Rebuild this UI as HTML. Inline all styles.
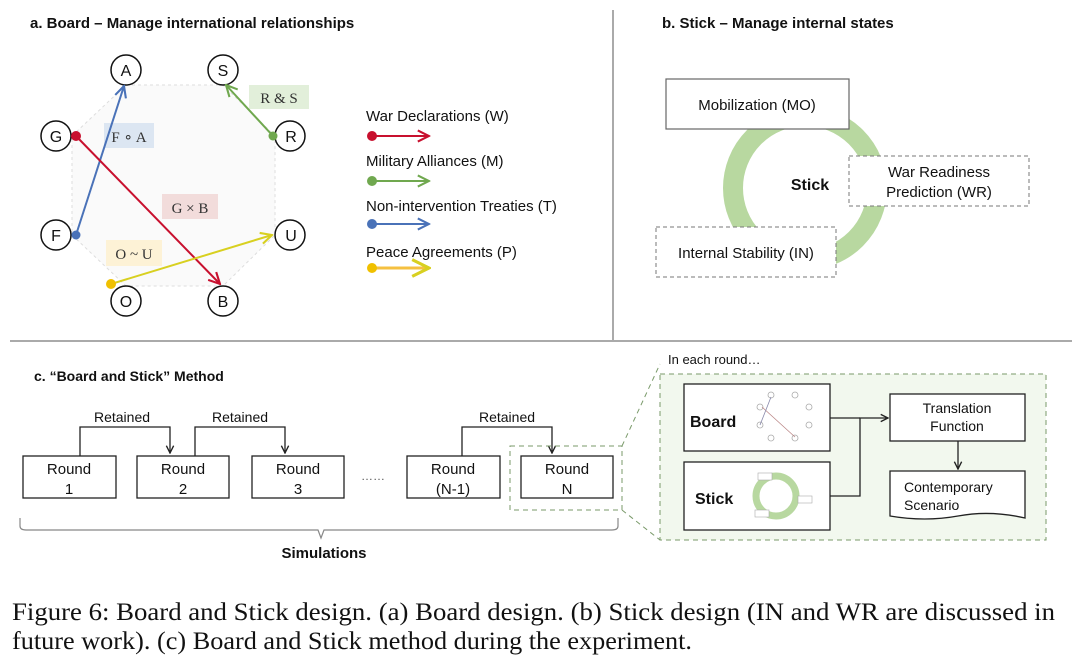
<!DOCTYPE html>
<html><head><meta charset="utf-8"><style>
body{margin:0;background:#fff;}
svg{display:block;font-family:"Liberation Sans",Arial,sans-serif;}
</style></head><body>
<svg width="1080" height="662" viewBox="0 0 1080 662" xmlns="http://www.w3.org/2000/svg">
<defs>
<marker id="ar" viewBox="0 0 10 10" refX="9" refY="5" markerWidth="7" markerHeight="7" orient="auto"><path d="M1,1 L9,5 L1,9" fill="none" stroke="#c8102e" stroke-width="1.5"/></marker>
<marker id="ag" viewBox="0 0 10 10" refX="9" refY="5" markerWidth="7" markerHeight="7" orient="auto"><path d="M1,1 L9,5 L1,9" fill="none" stroke="#70a84f" stroke-width="1.5"/></marker>
<marker id="ab" viewBox="0 0 10 10" refX="9" refY="5" markerWidth="7" markerHeight="7" orient="auto"><path d="M1,1 L9,5 L1,9" fill="none" stroke="#4a72b8" stroke-width="1.5"/></marker>
<marker id="ay" viewBox="0 0 10 10" refX="9" refY="5" markerWidth="7" markerHeight="7" orient="auto"><path d="M1,1 L9,5 L1,9" fill="none" stroke="#d8d020" stroke-width="1.5"/></marker>
<marker id="ak" viewBox="0 0 10 10" refX="9" refY="5" markerWidth="7" markerHeight="7" orient="auto"><path d="M1,1 L9,5 L1,9" fill="none" stroke="#222" stroke-width="1.5"/></marker>
</defs>

<line x1="613" y1="10" x2="613" y2="340" stroke="#555" stroke-width="1"/>
<line x1="10" y1="341" x2="1072" y2="341" stroke="#555" stroke-width="1"/>

<!-- Panel a -->
<text x="30" y="28" font-size="15" font-weight="bold" fill="#111">a. Board – Manage international relationships</text>
<polygon points="126,85 223,85 275,136 275,235 223,286 126,286 72,235 72,136" fill="#fafafa" stroke="#ddd" stroke-dasharray="3,3"/>
<rect x="104" y="123" width="50" height="25" fill="#dce6f2"/>
<text x="129" y="142" font-size="15" font-family="Liberation Serif,serif" text-anchor="middle" fill="#333">F ∘ A</text>
<rect x="249" y="85" width="60" height="24" fill="#e2efda"/>
<text x="279" y="103" font-size="15" font-family="Liberation Serif,serif" text-anchor="middle" fill="#333">R &amp; S</text>
<rect x="162" y="194" width="56" height="25" fill="#f2dcdb"/>
<text x="190" y="213" font-size="15" font-family="Liberation Serif,serif" text-anchor="middle" fill="#333">G × B</text>
<rect x="106" y="240" width="56" height="26" fill="#fdf2d6"/>
<text x="134" y="259" font-size="15" font-family="Liberation Serif,serif" text-anchor="middle" fill="#333">O ~ U</text>

<g fill="#fff" stroke="#111" stroke-width="1.5">
<circle cx="126" cy="70" r="15"/><circle cx="223" cy="70" r="15"/>
<circle cx="56" cy="136" r="15"/><circle cx="290" cy="136" r="15"/>
<circle cx="56" cy="235" r="15"/><circle cx="290" cy="235" r="15"/>
<circle cx="126" cy="301" r="15"/><circle cx="223" cy="301" r="15"/>
</g>
<g font-size="16" text-anchor="middle" fill="#111">
<text x="126" y="76">A</text><text x="223" y="76">S</text>
<text x="56" y="142">G</text><text x="291" y="142">R</text>
<text x="56" y="241">F</text><text x="291" y="241">U</text>
<text x="126" y="307">O</text><text x="223" y="307">B</text>
</g>
<line x1="76" y1="235" x2="124" y2="86" stroke="#4a72b8" stroke-width="2" marker-end="url(#ab)"/>
<circle cx="76" cy="235" r="4.5" fill="#4a72b8"/>
<line x1="76" y1="136" x2="220" y2="284" stroke="#c8102e" stroke-width="2" marker-end="url(#ar)"/>
<circle cx="76" cy="136" r="5" fill="#c8102e"/>
<line x1="273" y1="136" x2="226" y2="85" stroke="#70a84f" stroke-width="2" marker-end="url(#ag)"/>
<circle cx="273" cy="136" r="4.5" fill="#70a84f"/>
<line x1="111" y1="284" x2="272" y2="235" stroke="#d8d020" stroke-width="2" marker-end="url(#ay)"/>
<circle cx="111" cy="284" r="5" fill="#f0c000"/>

<g font-size="15" fill="#111">
<text x="366" y="121">War Declarations (W)</text>
<text x="366" y="166">Military Alliances (M)</text>
<text x="366" y="211">Non-intervention Treaties (T)</text>
<text x="366" y="257">Peace Agreements (P)</text>
</g>
<line x1="372" y1="136" x2="429" y2="136" stroke="#c8102e" stroke-width="2" marker-end="url(#ar)"/><circle cx="372" cy="136" r="5" fill="#c8102e"/>
<line x1="372" y1="181" x2="429" y2="181" stroke="#70a84f" stroke-width="2" marker-end="url(#ag)"/><circle cx="372" cy="181" r="5" fill="#70a84f"/>
<line x1="372" y1="224" x2="429" y2="224" stroke="#4a72b8" stroke-width="2" marker-end="url(#ab)"/><circle cx="372" cy="224" r="5" fill="#4a72b8"/>
<line x1="372" y1="268" x2="429" y2="268" stroke="#f5c040" stroke-width="3" marker-end="url(#ay)"/><circle cx="372" cy="268" r="5" fill="#f0c000"/>

<!-- Panel b -->
<text x="662" y="28" font-size="15" font-weight="bold" fill="#111">b. Stick – Manage internal states</text>
<circle cx="805" cy="188" r="72" fill="none" stroke="#b8d8a0" stroke-width="20"/>
<rect x="666" y="79" width="183" height="50" fill="#fff" stroke="#666" stroke-width="1.2"/>
<text x="757" y="110" font-size="15" text-anchor="middle" fill="#111">Mobilization (MO)</text>
<text x="810" y="190" font-size="16" font-weight="bold" text-anchor="middle" fill="#111">Stick</text>
<rect x="849" y="156" width="180" height="50" fill="#fff" stroke="#777" stroke-dasharray="4,3"/>
<text x="939" y="177" font-size="15" text-anchor="middle" fill="#111">War Readiness</text>
<text x="939" y="197" font-size="15" text-anchor="middle" fill="#111">Prediction (WR)</text>
<rect x="656" y="227" width="180" height="50" fill="#fff" stroke="#777" stroke-dasharray="4,3"/>
<text x="746" y="258" font-size="15" text-anchor="middle" fill="#111">Internal Stability (IN)</text>

<!-- Panel c -->
<text x="34" y="381" font-size="14" font-weight="bold" fill="#111">c. “Board and Stick” Method</text>
<g fill="#fff" stroke="#222" stroke-width="1.3">
<rect x="23" y="456" width="93" height="42"/>
<rect x="137" y="456" width="92" height="42"/>
<rect x="252" y="456" width="92" height="42"/>
<rect x="407" y="456" width="93" height="42"/>
<rect x="521" y="456" width="92" height="42"/>
</g>
<g font-size="15" text-anchor="middle" fill="#111">
<text x="69" y="474">Round</text><text x="69" y="494">1</text>
<text x="183" y="474">Round</text><text x="183" y="494">2</text>
<text x="298" y="474">Round</text><text x="298" y="494">3</text>
<text x="453" y="474">Round</text><text x="453" y="494">(N-1)</text>
<text x="567" y="474">Round</text><text x="567" y="494">N</text>
</g>
<text x="373" y="480" font-size="12" text-anchor="middle" fill="#555">……</text>
<g fill="none" stroke="#222" stroke-width="1.3">
<polyline points="80,456 80,427 170,427 170,453" marker-end="url(#ak)"/>
<polyline points="195,456 195,427 285,427 285,453" marker-end="url(#ak)"/>
<polyline points="462,456 462,427 552,427 552,453" marker-end="url(#ak)"/>
</g>
<g font-size="14" text-anchor="middle" fill="#111">
<text x="122" y="422">Retained</text><text x="240" y="422">Retained</text><text x="507" y="422">Retained</text>
</g>
<rect x="510" y="446" width="112" height="64" fill="none" stroke="#7a9a6a" stroke-dasharray="5,4"/>
<path d="M20,518 L20,526 Q20,530 26,530 L318,530 L321,538 L324,530 L612,530 Q618,530 618,526 L618,518" fill="none" stroke="#888" stroke-width="1.2"/>
<text x="324" y="558" font-size="15" font-weight="bold" text-anchor="middle" fill="#111">Simulations</text>

<line x1="622" y1="446" x2="660" y2="364" stroke="#7a9a6a" stroke-dasharray="5,4"/>
<line x1="622" y1="510" x2="660" y2="540" stroke="#7a9a6a" stroke-dasharray="5,4"/>
<text x="668" y="364" font-size="13" fill="#111">In each round…</text>
<rect x="660" y="374" width="386" height="166" fill="#f2f8ee" stroke="#7a9a6a" stroke-dasharray="5,4"/>
<rect x="684" y="384" width="146" height="67" fill="#fff" stroke="#222" stroke-width="1.3"/>
<text x="690" y="427" font-size="16" font-weight="bold" fill="#111">Board</text>
<g fill="none" stroke="#aaa" stroke-width="0.8">
<circle cx="771" cy="395" r="3"/><circle cx="795" cy="395" r="3"/><circle cx="760" cy="407" r="3"/><circle cx="809" cy="407" r="3"/><circle cx="760" cy="425" r="3"/><circle cx="809" cy="425" r="3"/><circle cx="771" cy="438" r="3"/><circle cx="795" cy="438" r="3"/>
<line x1="762" y1="407" x2="795" y2="437" stroke="#b88"/><line x1="760" y1="425" x2="771" y2="397" stroke="#88a"/>
</g>
<rect x="684" y="462" width="146" height="68" fill="#fff" stroke="#222" stroke-width="1.3"/>
<text x="695" y="504" font-size="16" font-weight="bold" fill="#111">Stick</text>
<circle cx="776" cy="496" r="20" fill="none" stroke="#b8d8a0" stroke-width="7"/>
<rect x="758" y="473" width="14" height="7" fill="#fff" stroke="#aaa" stroke-width="0.6"/>
<rect x="798" y="496" width="14" height="7" fill="#fff" stroke="#aaa" stroke-width="0.6"/>
<rect x="755" y="510" width="14" height="7" fill="#fff" stroke="#aaa" stroke-width="0.6"/>
<rect x="890" y="394" width="135" height="47" fill="#fff" stroke="#222" stroke-width="1.3"/>
<text x="957" y="413" font-size="14" text-anchor="middle" fill="#111">Translation</text>
<text x="957" y="431" font-size="14" text-anchor="middle" fill="#111">Function</text>
<path d="M890,471 L1025,471 L1025,518 Q990,510 958,516 Q925,522 890,516 Z" fill="#fff" stroke="#222" stroke-width="1.3"/>
<text x="904" y="492" font-size="14" fill="#111">Contemporary</text>
<text x="904" y="510" font-size="14" fill="#111">Scenario</text>
<g fill="none" stroke="#222" stroke-width="1.3">
<polyline points="830,418 860,418"/>
<polyline points="830,496 860,496 860,418 888,418" marker-end="url(#ak)"/>
<line x1="958" y1="441" x2="958" y2="469" marker-end="url(#ak)"/>
</g>

<!-- caption -->
<g font-family="Liberation Serif,serif" font-size="25" fill="#111">
<text x="12" y="620" textLength="1043" lengthAdjust="spacingAndGlyphs">Figure 6: Board and Stick design. (a) Board design. (b) Stick design (IN and WR are discussed in</text>
<text x="12" y="649" textLength="680" lengthAdjust="spacingAndGlyphs">future work). (c) Board and Stick method during the experiment.</text>
</g>
</svg>
</body></html>
